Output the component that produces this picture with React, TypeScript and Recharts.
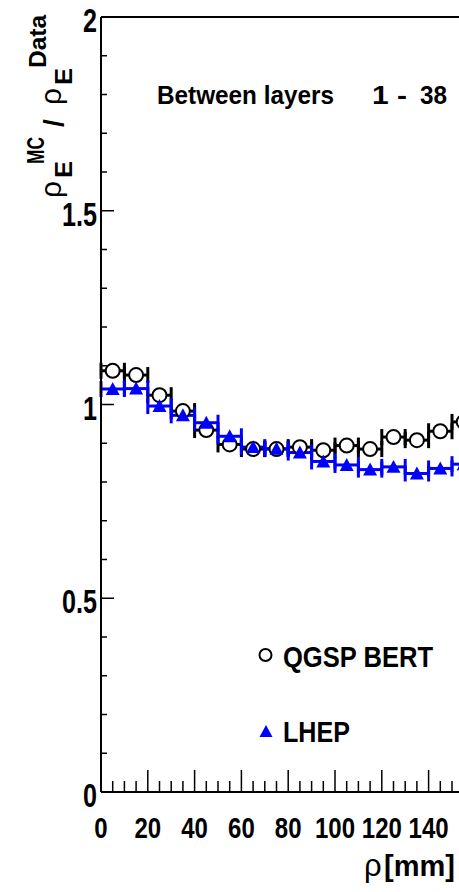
import { ComposedChart, Scatter, XAxis, YAxis, ErrorBar, ReferenceLine } from "recharts";

// rho bin centres [mm], 10 mm bins
const binCenters = [5, 15, 25, 35, 45, 55, 65, 75, 85, 95, 105, 115, 125, 135, 145, 155];
const binHalfWidth = 5;

// MC / Data ratio of energy density
const qgspBert = [1.087, 1.076, 1.024, 0.983, 0.934, 0.897, 0.885, 0.885, 0.89, 0.882, 0.894, 0.885, 0.916, 0.908, 0.931, 0.955];
const lhep = [1.04, 1.041, 0.996, 0.972, 0.953, 0.918, 0.89, 0.886, 0.876, 0.853, 0.844, 0.832, 0.839, 0.822, 0.835, 0.846];

const xTicks = Array.from({ length: 41 }, (_, i) => i * 5);
const xTickLabels = [0, 20, 40, 60, 80, 100, 120, 140];
const yTicks = Array.from({ length: 21 }, (_, i) => i / 10);
const yTickLabels = ["0", "0.5", "1", "1.5", "2"];

const FONT = "'Liberation Sans', Arial, Helvetica, sans-serif";

const toPoints = (vals: number[]) =>
  binCenters.map((x, i) => ({ x, y: vals[i], xerr: binHalfWidth }));

const qgspData = toPoints(qgspBert);
const lhepData = toPoints(lhep);

function XTick(props: any) {
  const { x, y, payload } = props;
  const v = payload.value as number;
  const major = v % 20 === 0;
  const labelled = xTickLabels.includes(v);
  return (
    <g>
      <line x1={x} y1={y} x2={x} y2={y - (major ? 22 : 11)} stroke="#000" strokeWidth={1.5} />
      {labelled && (
        <text
          transform={`translate(${x},${y + 46}) scale(0.8,1)`}
          textAnchor="middle"
          fontFamily={FONT}
          fontWeight="bold"
          fontSize={30}
          fill="#000"
        >
          {v}
        </text>
      )}
    </g>
  );
}

function YTick(props: any) {
  const { x, y, payload } = props;
  const v = payload.value as number;
  const label = yTickLabels.find((l) => Math.abs(Number(l) - v) < 1e-6);
  return (
    <g>
      <line x1={x} y1={y} x2={x + (label ? 13 : 6)} y2={y} stroke="#000" strokeWidth={1.5} />
      {label && (
        <text
          transform={`translate(${x - 4},${y + 15}) scale(0.74,1)`}
          textAnchor="end"
          fontFamily={FONT}
          fontWeight="bold"
          fontSize={34}
          fill="#000"
        >
          {label}
        </text>
      )}
    </g>
  );
}

const OpenCircle = (props: any) => (
  <circle cx={props.cx} cy={props.cy} r={7} fill="#fff" stroke="#000" strokeWidth={2} />
);

const Triangle = (props: any) => {
  const { cx, cy } = props;
  const s = 7;
  return <polygon points={`${cx},${cy - s} ${cx - s},${cy + s * 0.85} ${cx + s},${cy + s * 0.85}`} fill="#0000ff" />;
};

function RotText({ x, y, size, bold, len, children }: any) {
  return (
    <text
      transform={`translate(${x},${y}) rotate(-90)`}
      fontFamily={FONT}
      fontWeight={bold ? "bold" : "normal"}
      fontSize={size}
      textLength={len}
      lengthAdjust={len ? "spacingAndGlyphs" : undefined}
      fill="#000"
    >
      {children}
    </text>
  );
}

export default function App() {
  return (
    <div style={{ position: "absolute", left: 0, top: 0, width: 459, height: 892, overflow: "hidden", background: "#fff" }}>
      <ComposedChart width={580} height={892} margin={{ top: 17, right: 11, bottom: 0, left: 0 }}>
        <XAxis
          dataKey="x"
          type="number"
          domain={[0, 200]}
          ticks={xTicks}
          interval={0}
          height={100}
          tickSize={0}
          tickMargin={0}
          tickLine={false}
          axisLine={{ stroke: "#000", strokeWidth: 2 }}
          tick={<XTick />}
        />
        <YAxis
          type="number"
          domain={[0, 2]}
          ticks={yTicks}
          interval={0}
          width={101}
          tickSize={0}
          tickMargin={0}
          tickLine={false}
          axisLine={{ stroke: "#000", strokeWidth: 2 }}
          tick={<YTick />}
        />
        <ReferenceLine y={2} stroke="#000" strokeWidth={2} />
        <Scatter data={qgspData} dataKey="y" shape={<OpenCircle />} isAnimationActive={false}>
          <ErrorBar dataKey="xerr" direction="x" width={8} strokeWidth={3} stroke="#000" />
        </Scatter>
        <Scatter data={lhepData} dataKey="y" shape={<Triangle />} isAnimationActive={false}>
          <ErrorBar dataKey="xerr" direction="x" width={8} strokeWidth={3} stroke="#0000ff" />
        </Scatter>
      </ComposedChart>
      <svg width={459} height={892} style={{ position: "absolute", left: 0, top: 0, pointerEvents: "none" }}>
        <g fontFamily={FONT} fill="#000">
          <text x={157} y={104} fontSize={26} fontWeight="bold" textLength={177} lengthAdjust="spacingAndGlyphs">
            Between layers
          </text>
          <text x={372} y={104} fontSize={26} fontWeight="bold" textLength={35} lengthAdjust="spacingAndGlyphs">
            1 -
          </text>
          <text x={420} y={104} fontSize={26} fontWeight="bold" textLength={27} lengthAdjust="spacingAndGlyphs">
            38
          </text>

          <circle cx={265.5} cy={655} r={6} fill="#fff" stroke="#000" strokeWidth={2} />
          <text x={283} y={667} fontSize={30} fontWeight="bold" textLength={150} lengthAdjust="spacingAndGlyphs">
            QGSP BERT
          </text>
          <polygon points="266,725 259.5,737 272.5,737" fill="#0000ff" />
          <text x={283} y={742} fontSize={30} fontWeight="bold" textLength={67} lengthAdjust="spacingAndGlyphs">
            LHEP
          </text>

          <text x={364} y={876} fontSize={31}>ρ</text>
          <text x={384} y={876} fontSize={29} fontWeight="bold">[mm]</text>
        </g>
        <RotText x={61} y={198} size={30}>ρ</RotText>
        <RotText x={44} y={164} size={24} bold len={27}>MC</RotText>
        <RotText x={72} y={178} size={23} bold len={17}>E</RotText>
        <RotText x={63} y={127} size={28} bold>/</RotText>
        <RotText x={61} y={105} size={30}>ρ</RotText>
        <RotText x={72} y={85} size={23} bold len={17}>E</RotText>
        <RotText x={46} y={68} size={24} bold len={53}>Data</RotText>
      </svg>
    </div>
  );
}
